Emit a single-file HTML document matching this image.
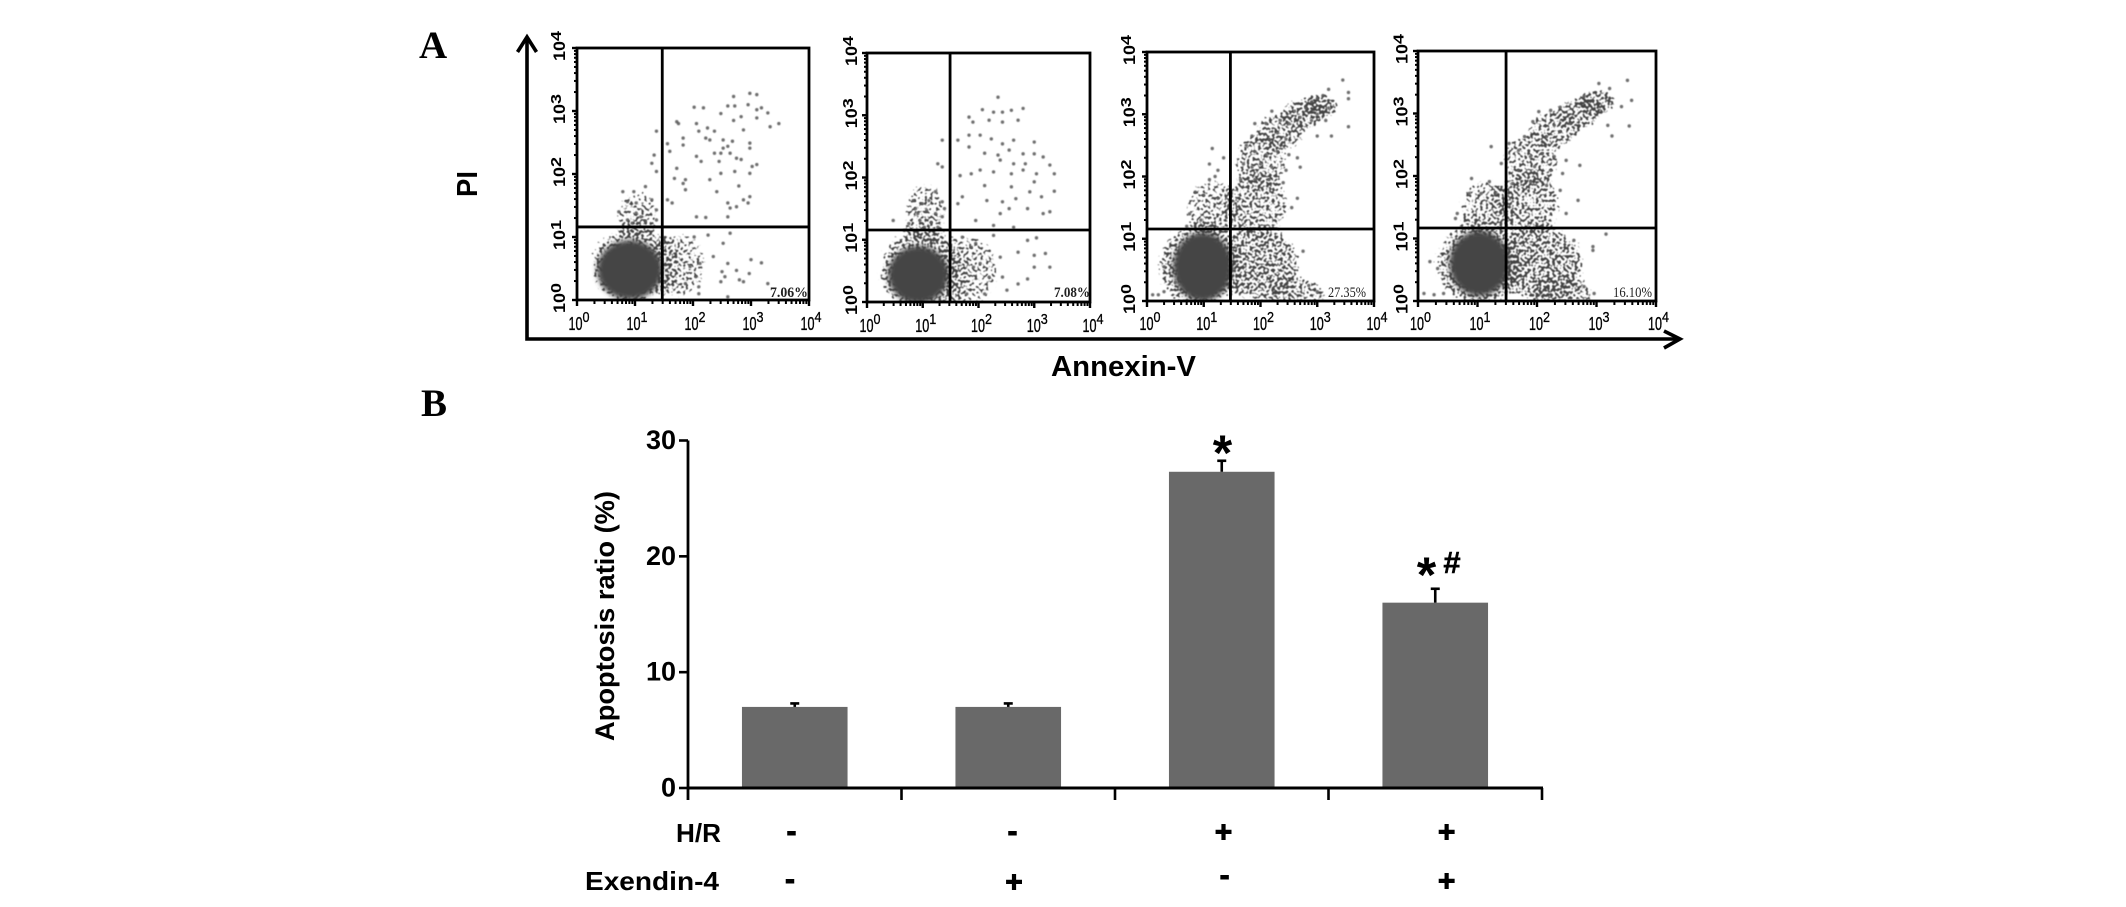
<!DOCTYPE html>
<html lang="en">
<head>
<meta charset="utf-8">
<title>Apoptosis flow cytometry and ratio chart</title>
<style>
html,body{margin:0;padding:0;background:#fff;width:2126px;height:907px;overflow:hidden}
svg{display:block;font-family:"Liberation Sans",sans-serif}
.b{font-weight:bold;fill:#000}
.s{font-family:"Liberation Serif",serif;font-weight:bold;fill:#000}
</style>
</head>
<body>
<svg id="figure" width="2126" height="907" viewBox="0 0 2126 907" xmlns="http://www.w3.org/2000/svg">
<defs>
<radialGradient id="hazeGrad"><stop offset="0" stop-color="#333"/><stop offset=".7" stop-color="#333" stop-opacity=".92"/><stop offset="1" stop-color="#333" stop-opacity="0"/></radialGradient>
<filter id="stipple" x="-5%" y="-5%" width="110%" height="110%" color-interpolation-filters="sRGB">
<feComponentTransfer in="SourceGraphic" result="capped"><feFuncA type="table" tableValues="0 0.25 0.5 0.57 0.68"/></feComponentTransfer>
<feTurbulence type="fractalNoise" baseFrequency="0.36" numOctaves="1" seed="5" result="noise"/>
<feColorMatrix in="noise" type="matrix" values="0 0 0 0 0  0 0 0 0 0  0 0 0 0 0  1 0 0 0 0" result="noiseAlpha"/>
<feComposite in="capped" in2="noiseAlpha" operator="arithmetic" k1="0" k2="1" k3="1" k4="-1" result="field"/>
<feColorMatrix in="field" type="matrix" values="0 0 0 0 0.26  0 0 0 0 0.26  0 0 0 0 0.26  0 0 0 9 0"/>
<feGaussianBlur stdDeviation="0.55"/>
</filter>
<filter id="soft" x="-20%" y="-20%" width="140%" height="140%"><feGaussianBlur stdDeviation="2.6"/></filter>
<filter id="dotSoft" x="-5%" y="-5%" width="110%" height="110%"><feGaussianBlur stdDeviation="0.55"/></filter>
</defs>
<rect width="2126" height="907" fill="#fff"/>

<text class="s" x="419" y="58" font-size="39">A</text>
<text class="s" x="421" y="416" font-size="39">B</text>

<g id="flowPlots"></g>

<g fill="none" stroke="#000" stroke-width="3.6">
<path d="M527 37V339H1680"/>
<path d="M517.5 52L527 37L536.5 52"/>
<path d="M1664 331L1680 339L1664 348"/>
</g>
<text class="b" font-size="29" transform="translate(477 197) rotate(-90)" textLength="26" lengthAdjust="spacingAndGlyphs">PI</text>
<text class="b" x="1051" y="376" font-size="29" textLength="145" lengthAdjust="spacingAndGlyphs">Annexin-V</text>

<g id="barChart"></g>
<text class="b" font-size="27" text-anchor="middle" transform="translate(614 616) rotate(-90)" textLength="250" lengthAdjust="spacingAndGlyphs">Apoptosis ratio (%)</text>

<text class="b" x="1222.5" y="470" font-size="50" text-anchor="middle">*</text>
<text class="b" x="1426.5" y="592" font-size="50" text-anchor="middle">*</text>
<text class="b" x="1452" y="573" font-size="31" text-anchor="middle" stroke="#000" stroke-width=".5">#</text>

<text class="b" x="676" y="842" font-size="26" textLength="45" lengthAdjust="spacingAndGlyphs">H/R</text>
<text class="b" x="585" y="890" font-size="26" textLength="134" lengthAdjust="spacingAndGlyphs">Exendin-4</text>
<g class="b" font-size="30" text-anchor="middle" font-weight="bold" stroke="#000" stroke-width=".9">
<text x="791.5" y="841">-</text>
<text x="1012.5" y="841">-</text>
<text x="1223.5" y="842">+</text>
<text x="1446.6" y="842">+</text>
<text x="790" y="889">-</text>
<text x="1014" y="892">+</text>
<text x="1224.6" y="885">-</text>
<text x="1446.6" y="891">+</text>
</g>
</svg>

<script>
/* ---------- bar chart data ---------- */
const barCategories = ['control', 'exendin-4', 'hr', 'hr-exendin-4'];
const barValues = [7.0, 7.0, 27.3, 16.0];
const barErrors = [0.3, 0.3, 0.95, 1.2];
const barTicks = [0, 10, 20, 30];

/* ---------- flow cytometry data: [log10 Annexin-V, log10 PI] ---------- */
const panelPercents = ['7.06%', '7.08%', '27.35%', '16.10%'];
const decades = [0, 1, 2, 3, 4];
const gateLogX = [1.47, 1.49, 1.47, 1.48];
const gateLogY = [1.16, 1.157, 1.157, 1.168];

/* dense centre: [logX, logY, spreadX, spreadY] */
const panel1Core = [0.91, 0.48, 0.56, 0.47];
const panel2Core = [0.92, 0.44, 0.54, 0.46];
const panel3Core = [0.98, 0.55, 0.52, 0.55];
const panel4Core = [1.03, 0.60, 0.50, 0.52];

/* cell density regions: [logX, logY, spreadX, spreadY, density] */
const panel1Regions = [[0.95,0.55,0.88,0.74,0.58],[1.75,0.55,0.6,0.64,0.5],[1.05,1.35,0.45,0.45,0.5]];
const panel2Regions = [[0.95,0.5,0.92,0.8,0.58],[1.8,0.5,0.7,0.74,0.49],[1.05,1.4,0.45,0.65,0.5]];
const panel3Regions = [[0.9,0.55,0.85,0.82,0.64],[1.95,0.6,0.9,0.72,0.64],[2.65,0.08,0.62,0.36,0.53],[1.15,1.5,0.58,0.55,0.5],[1.95,1.55,0.68,0.6,0.53],[2.0,2.25,0.58,0.55,0.52],[2.35,2.72,0.52,0.38,0.53],[2.75,3.0,0.45,0.32,0.55],[3.05,3.13,0.38,0.24,0.68]];
const panel4Regions = [[1.0,0.58,0.85,0.82,0.64],[2.05,0.6,0.9,0.72,0.64],[2.45,0.08,0.62,0.36,0.53],[1.15,1.5,0.58,0.55,0.5],[1.85,1.55,0.68,0.6,0.53],[1.9,2.25,0.58,0.55,0.52],[2.3,2.75,0.52,0.38,0.53],[2.7,3.0,0.45,0.32,0.55],[3.0,3.18,0.38,0.24,0.68]];

const panel1Events = [[2.70,3.23],[2.98,3.28],[3.10,3.26],[2.95,3.10],[3.10,3.02],[3.18,3.05],[3.29,2.97],[3.10,2.89],[3.48,2.80],[3.33,2.75],[2.02,3.06],[2.18,3.05],[1.72,2.83],[1.75,2.80],[2.06,2.80],[2.25,2.73],[2.10,2.68],[2.37,2.68],[2.48,2.96],[2.60,3.08],[2.72,3.08],[2.70,2.85],[2.83,2.91],[2.87,2.70],[1.83,2.57],[2.22,2.57],[2.29,2.54],[1.56,2.48],[1.60,2.36],[1.83,2.46],[2.52,2.54],[2.68,2.52],[2.60,2.44],[2.52,2.41],[2.48,2.33],[2.37,2.33],[2.64,2.33],[2.98,2.49],[2.98,2.41],[2.75,2.25],[2.83,2.23],[2.06,2.28],[2.14,2.20],[2.45,2.20],[3.10,2.15],[3.02,2.12],[1.72,2.09],[2.48,2.01],[2.72,2.04],[2.98,2.01],[1.87,1.91],[1.83,1.85],[2.29,1.91],[1.68,1.93],[1.87,1.75],[2.41,1.72],[2.79,1.81],[2.98,1.64],[2.87,1.59],[2.95,1.54],[2.60,1.54],[2.64,1.46],[2.75,1.48],[2.60,1.32],[2.06,1.32],[2.22,1.31],[1.37,2.68],[1.33,2.30],[1.29,2.17],[1.37,2.04],[1.18,1.80],[0.98,1.72],[0.79,1.72],[0.87,1.56],[1.02,1.54],[1.29,1.59],[1.56,1.59],[1.64,1.54],[1.37,1.43],[0.72,1.40],[1.02,1.38],[0.87,1.27],[1.10,1.32],[1.18,1.25],[0.95,1.22],[1.37,1.27],[2.64,1.06],[2.26,1.03],[2.52,0.90],[2.02,1.0],[2.35,0.69],[3.0,0.64],[3.18,0.59],[2.6,0.58],[2.5,0.45],[2.75,0.47],[2.55,0.37],[2.97,0.42],[2.8,0.32],[2.87,0.29],[2.48,0.29],[2.6,0.05],[3.29,0.26],[2.12,0.58],[1.95,0.53],[2.05,0.37],[1.87,0.26],[2.1,0.21],[2.1,0.1]];

const panel2Events = [[2.35,3.29],[2.07,3.09],[2.27,3.05],[2.43,3.05],[2.59,3.08],[2.80,3.11],[1.83,2.97],[1.90,2.89],[2.19,2.92],[2.43,2.89],[2.71,2.92],[1.83,2.68],[2.03,2.68],[2.23,2.62],[1.35,2.60],[1.63,2.60],[1.83,2.49],[2.43,2.54],[2.63,2.60],[3.0,2.57],[2.11,2.39],[2.35,2.36],[2.55,2.44],[2.80,2.38],[3.0,2.38],[3.16,2.33],[2.39,2.28],[2.63,2.22],[2.84,2.22],[3.28,2.20],[3.36,2.06],[3.04,2.06],[2.80,2.12],[2.59,2.06],[2.27,2.09],[2.03,2.12],[1.87,2.06],[1.67,2.03],[1.27,2.22],[1.35,2.17],[2.11,1.87],[2.59,1.85],[2.92,1.77],[3.36,1.78],[3.0,1.93],[3.13,1.69],[2.67,1.66],[2.43,1.61],[2.15,1.63],[1.71,1.69],[1.63,1.58],[2.55,1.50],[2.39,1.42],[2.88,1.50],[3.16,1.42],[3.28,1.45],[1.95,1.31],[2.27,1.23],[2.63,1.20],[0.47,1.31],[0.83,1.63],[1.23,1.77],[0.99,1.58],[0.91,1.42],[1.07,1.47],[1.35,1.61],[1.23,1.42],[0.95,1.31],[1.15,1.28],[1.35,1.37],[0.75,1.26],[1.03,1.20],[1.27,1.20],[0.67,1.15],[0.87,1.50],[1.11,1.63],[1.39,1.50],[2.88,0.99],[3.04,1.03],[2.27,1.07],[2.71,0.80],[3.0,0.75],[3.2,0.78],[3.28,0.56],[3.0,0.56],[2.88,0.37],[2.43,0.40],[2.71,0.29],[2.51,0.19],[2.19,0.40],[2.03,0.62],[1.91,0.56],[2.39,0.72],[1.95,0.94],[2.11,0.13],[1.79,0.13],[1.71,1.04],[1.87,0.88]];

const panel3Events = [[3.45,3.55],[3.55,3.35],[3.55,3.25],[3.55,2.8],[3.2,3.4],[3.0,3.25],[3.1,3.3],[2.9,3.2],[3.2,3.1],[3.0,3.0],[3.15,2.9],[2.8,3.1],[2.7,2.95],[2.6,3.05],[2.5,2.85],[2.9,2.9],[3.0,2.65],[3.25,2.65],[2.35,2.9],[2.2,3.05],[2.1,2.85],[1.9,2.85],[2.3,2.7],[2.45,2.6],[2.15,2.6],[1.85,2.65],[1.75,2.5],[1.9,2.4],[2.1,2.35],[2.3,2.4],[2.5,2.35],[2.65,2.3],[1.7,2.2],[1.85,2.15],[2.0,2.2],[2.2,2.15],[2.45,2.1],[2.7,2.15],[1.65,1.95],[1.9,1.95],[2.15,1.95],[2.4,1.9],[2.65,1.65],[2.55,1.5],[1.15,2.45],[1.1,2.2],[1.25,2.1],[1.1,1.95],[1.35,2.3],[1.2,2.0],[0.85,1.75],[1.0,1.7],[1.25,1.65],[0.75,1.4],[0.95,1.3],[0.7,1.2],[2.75,0.8],[0.2,0.1],[0.3,0.55],[0.1,0.1],[0.5,0.3],[0.3,0.15],[3.0,0.15],[2.85,0.25]];

const panel4Events = [[3.04,3.48],[3.52,3.53],[3.59,3.21],[3.55,2.80],[3.26,2.64],[3.19,2.81],[2.79,3.27],[3.22,3.40],[3.42,3.11],[2.03,3.03],[2.23,3.05],[2.39,3.10],[1.93,2.87],[2.29,2.81],[1.79,2.63],[2.16,2.63],[2.39,2.71],[2.56,2.84],[1.23,2.47],[1.53,2.52],[1.40,2.20],[2.72,2.17],[1.69,2.41],[1.89,2.31],[2.09,2.36],[2.29,2.31],[2.49,2.25],[1.69,2.09],[1.96,2.15],[2.23,2.09],[2.43,2.04],[1.2,1.91],[0.9,1.96],[1.59,1.88],[1.89,1.91],[2.16,1.85],[2.39,1.77],[2.69,1.61],[2.49,1.40],[0.86,1.72],[1.06,1.72],[1.3,1.72],[0.66,1.40],[0.63,1.32],[3.16,1.07],[2.94,0.87],[2.94,0.81],[2.62,0.97],[0.2,0.63],[0.33,0.52],[0.1,0.12],[0.27,0.1],[0.43,0.12],[2.96,0.12],[2.79,0.23]];

const panelCores = [panel1Core, panel2Core, panel3Core, panel4Core];
const panelRegions = [panel1Regions, panel2Regions, panel3Regions, panel4Regions];
const panelEvents = [panel1Events, panel2Events, panel3Events, panel4Events];

const NS = 'http://www.w3.org/2000/svg';
function make(tag, attrs, parent) {
  const node = document.createElementNS(NS, tag);
  for (const key in attrs) node.setAttribute(key, attrs[key]);
  parent.appendChild(node);
  return node;
}

/* ---------- flow plots ---------- */
const layouts = [
  {l:577,r:809,t:48,b:300,lx:-8.5,ty:330,yl:-12,pctX:770,pctW:38},
  {l:867,r:1090,t:53,b:302,lx:-7.5,ty:332,yl:-10,pctX:1054,pctW:36},
  {l:1147,r:1374,t:52,b:301,lx:-7.5,ty:330,yl:-12,pctX:1328,pctW:38},
  {l:1418,r:1656,t:51,b:301,lx:-8,ty:330,yl:-10.5,pctX:1613,pctW:39}
];
const flowRoot = document.getElementById('flowPlots');

layouts.forEach(function (box, p) {
  const px = function (v) { return box.l + (box.r - box.l) * v / 4; };
  const py = function (v) { return box.b - (box.b - box.t) * v / 4; };
  const sx = (box.r - box.l) / 4, sy = (box.b - box.t) / 4;

  const g = make('g', {}, flowRoot);
  
  

  const clip = make('clipPath', {id: 'clip' + p}, g);
  make('rect', {x: box.l, y: box.t, width: box.r - box.l, height: box.b - box.t}, clip);

  const plot = make('g', {'clip-path': 'url(#clip' + p + ')'}, g);
  
  

  const field = make('g', {filter: 'url(#stipple)'}, plot);
  
  

  panelRegions[p].forEach(function (d) {
    const region = make('ellipse', {cx: px(d[0]), cy: py(d[1]), rx: d[2] * sx, ry: d[3] * sy, fill: 'url(#hazeGrad)', opacity: d[4]}, field);
    
    
  });

  const c = panelCores[p];
  const core = make('ellipse', {cx: px(c[0]), cy: py(c[1]), rx: c[2] * sx, ry: c[3] * sy, fill: '#454545', filter: 'url(#soft)'}, plot);
  
  

  const dots = make('g', {filter: 'url(#dotSoft)'}, plot);
  panelEvents[p].forEach(function (d) {
    const dot = make('circle', {cx: px(d[0]), cy: py(d[1]), r: 1.7, fill: '#555', opacity: 0.85}, dots);
    
    
  });

  const frame = make('rect', {x: box.l, y: box.t, width: box.r - box.l, height: box.b - box.t, fill: 'none', stroke: '#000', 'stroke-width': 2.8}, g);
  
  

  const vGate = make('line', {x1: px(gateLogX[p]), x2: px(gateLogX[p]), y1: box.t, y2: box.b, stroke: '#000', 'stroke-width': 2.8}, g);
  
  

  const hGate = make('line', {x1: box.l, x2: box.r, y1: py(gateLogY[p]), y2: py(gateLogY[p]), stroke: '#000', 'stroke-width': 2.8}, g);
  
  

  decades.forEach(function (k) {
    const xt = make('line', {x1: px(k), x2: px(k), y1: box.b, y2: box.b + 6, stroke: '#000', 'stroke-width': 2.4}, g);
    
    

    const yt = make('line', {x1: box.l - 5, x2: box.l, y1: py(k), y2: py(k), stroke: '#000', 'stroke-width': 2.4}, g);
    
    

    if (k < 4) {
      for (let m = 2; m < 10; m++) {
        const off = Math.log10(m);
        const xm = make('line', {x1: px(k + off), x2: px(k + off), y1: box.b, y2: box.b + 4, stroke: '#000', 'stroke-width': 2}, g);
        
        

        const ym = make('line', {x1: box.l - 3, x2: box.l, y1: py(k + off), y2: py(k + off), stroke: '#000', 'stroke-width': 2}, g);
        
        
      }
    }

    const xl = make('text', {x: px(k) + box.lx, y: box.ty, 'font-size': 18, fill: '#000', stroke: '#000', 'stroke-width': 0.35, textLength: 14, lengthAdjust: 'spacingAndGlyphs'}, g);
    xl.textContent = '10';
    
    

    const xs = make('text', {x: px(k) + box.lx + 14, y: box.ty - 8, 'font-size': 15, fill: '#000', stroke: '#000', 'stroke-width': 0.3, textLength: 7, lengthAdjust: 'spacingAndGlyphs'}, g);
    xs.textContent = String(k);
    
    

    const yX = box.l + box.yl, yY = py(k) + 13;
    const yl = make('text', {transform: 'translate(' + yX + ' ' + yY + ') rotate(-90)', 'font-size': 17, 'font-weight': 'bold', fill: '#000', textLength: 20, lengthAdjust: 'spacingAndGlyphs'}, g);
    yl.textContent = '10';
    
    

    const ys = make('text', {transform: 'translate(' + (yX - 4) + ' ' + (yY - 20) + ') rotate(-90)', 'font-size': 15, 'font-weight': 'bold', fill: '#000', textLength: 10, lengthAdjust: 'spacingAndGlyphs'}, g);
    ys.textContent = String(k);
    
    
  });

  const pct = make('text', {x: box.pctX, y: 297, 'font-size': 15, 'font-weight': p < 2 ? 'bold' : 'normal', 'font-family': '"Liberation Serif",serif', fill: '#222', textLength: box.pctW, lengthAdjust: 'spacingAndGlyphs'}, g);
  pct.textContent = panelPercents[p];
  
  
});

/* ---------- bar chart ---------- */
const barRoot = document.getElementById('barChart');
const plotLeft = 688, plotRight = 1542, plotZero = 788, plotTop = 440.5;
const yScale = function (v) { return plotZero - (plotZero - plotTop) * v / 30; };
const band = (plotRight - plotLeft) / barCategories.length;
const barWidth = 105.6;

barValues.forEach(function (value, i) {
  const cx = plotLeft + band * (i + 0.5);
  const bar = make('rect', {x: cx - barWidth / 2, y: yScale(value), width: barWidth, height: plotZero - yScale(value), fill: '#696969'}, barRoot);
  
  

  const top = yScale(value + barErrors[i]);
  const stem = make('line', {x1: cx, x2: cx, y1: yScale(value), y2: top, stroke: '#000', 'stroke-width': 2.6}, barRoot);
  
  

  const cap = make('line', {x1: cx - 4.5, x2: cx + 4.5, y1: top, y2: top, stroke: '#000', 'stroke-width': 2.6}, barRoot);
  
  
});

const yAxis = make('line', {x1: plotLeft, x2: plotLeft, y1: plotTop, y2: 800, stroke: '#000', 'stroke-width': 2.8}, barRoot);



const xAxis = make('line', {x1: plotLeft, x2: plotRight + 1, y1: plotZero, y2: plotZero, stroke: '#000', 'stroke-width': 3}, barRoot);



for (let i = 1; i <= barCategories.length; i++) {
  const tick = make('line', {x1: plotLeft + band * i, x2: plotLeft + band * i, y1: plotZero, y2: 800, stroke: '#000', 'stroke-width': 2.6}, barRoot);
  
  
}

barTicks.forEach(function (t) {
  const tick = make('line', {x1: 679, x2: plotLeft, y1: yScale(t), y2: yScale(t), stroke: '#000', 'stroke-width': 2.6}, barRoot);
  
  

  const label = make('text', {x: 676, y: yScale(t) + 8.5, 'font-size': 27, 'font-weight': 'bold', 'text-anchor': 'end', fill: '#000'}, barRoot);
  label.textContent = String(t);
  
  
});
</script>
</body>
</html>
